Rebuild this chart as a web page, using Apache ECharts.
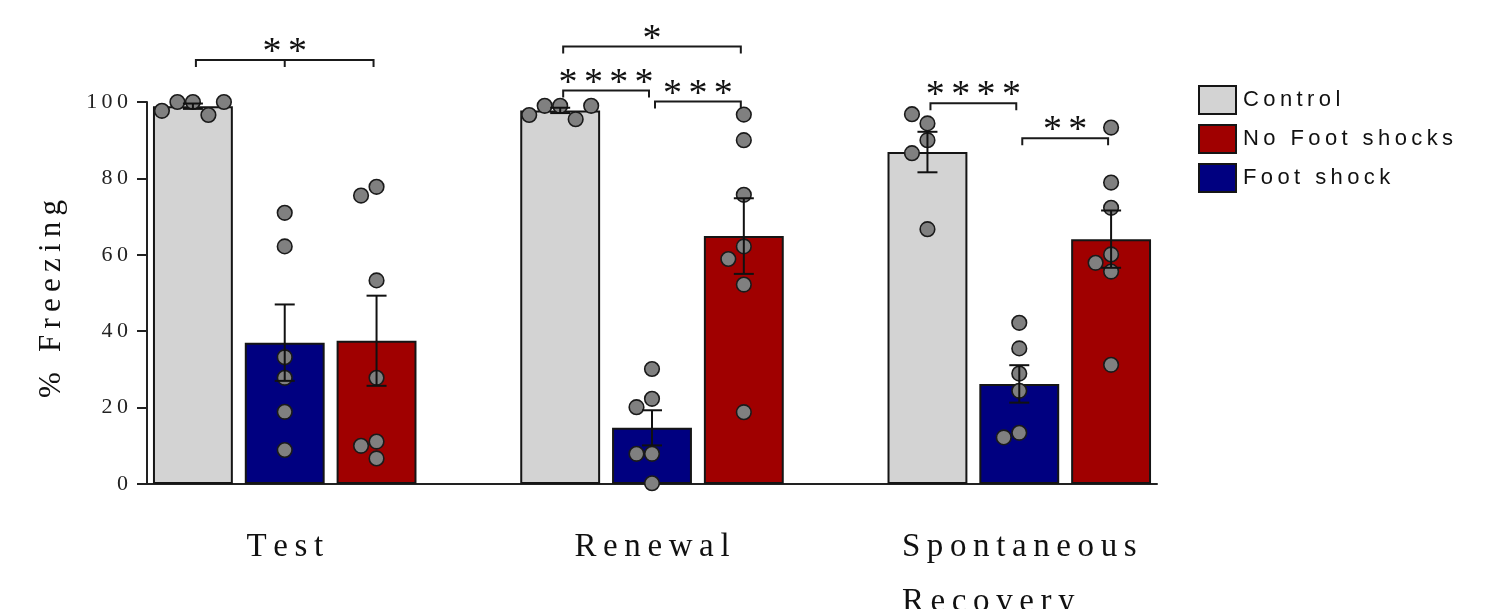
<!DOCTYPE html>
<html><head><meta charset="utf-8">
<script src="https://cdn.jsdelivr.net/npm/echarts@6/dist/echarts.min.js"></script>
<style>html,body{margin:0;padding:0;background:#fff}#c{width:1489px;height:609px}</style>
</head><body><div id="c"></div>
<script>
// ---- data ----
const groups = ['Test', 'Renewal', 'Spontaneous Recovery'];
const conditions = ['Control', 'Foot shock', 'No Foot shocks'];   // bar order inside a group
const legendOrder = ['Control', 'No Foot shocks', 'Foot shock'];
const yTicks = [0, 20, 40, 60, 80, 100];

const controlMean = [98.9, 97.8, 86.9];
const controlSem = [0.7, 0.7, 5.3];
const footShockMean = [37.0, 14.7, 26.2];
const footShockSem = [10.0, 4.6, 4.9];
const noFootShockMean = [37.5, 64.9, 64.1];
const noFootShockSem = [11.8, 9.9, 7.5];

const controlPoints = [
  [100, 100, 96.6, 97.7, 100],
  [99.0, 99.0, 95.5, 96.6, 99.0],
  [94.4, 96.8, 90.0, 86.6, 66.7]
];
const footShockPoints = [
  [71.0, 62.2, 33.2, 27.8, 18.9, 8.9],
  [30.1, 22.3, 20.1, 7.9, 7.9, 0.2],
  [42.2, 35.5, 28.9, 24.4, 13.4, 12.2]
];
const noFootShockPoints = [
  [77.8, 75.5, 53.3, 27.8, 11.1, 10.0, 6.7],
  [96.7, 90.0, 75.7, 62.2, 58.9, 52.2, 18.8],
  [93.3, 78.9, 72.3, 60.1, 57.9, 55.6, 31.2]
];

// significance brackets: group index, condition indices, height (% freezing), stars
const bracketGroup = [0, 1, 1, 1, 2, 2];
const bracketFrom  = [0, 0, 0, 1, 0, 1];
const bracketTo    = [2, 2, 1, 2, 1, 2];
const bracketY     = [111.0, 114.5, 103.0, 100.1, 99.7, 90.5];
const bracketStars = [2, 1, 4, 3, 4, 2];
const bracketMid   = [1, 0, 0, 0, 0, 0];

// ---- build ----
const means = [controlMean, footShockMean, noFootShockMean];
const sems = [controlSem, footShockSem, noFootShockSem];
const points = [controlPoints, footShockPoints, noFootShockPoints];
const colors = { 'Control': '#d3d3d3', 'Foot shock': '#000080', 'No Foot shocks': '#a00000' };

const per = conditions.length + 1;
const nSlots = groups.length * per - 1;
const slotOf = (g, c) => g * per + c;
const slotNames = Array.from({ length: nSlots }, (_, i) => 's' + i);
const slotLabel = Array.from({ length: nSlots }, (_, i) => (i % per === 1 ? groups[Math.floor(i / per)] : ''));

const SP = '\u2009';
const HAIR = '\u200A';
const spaced = s => s.split('').join(SP);

const serif = '"Liberation Serif", "Times New Roman", serif';
const sans = '"Liberation Sans", Arial, sans-serif';
const LABEL_SIZE = 33;

// measure widest word for left-aligned multi-line label
const mctx = document.createElement('canvas').getContext('2d');
mctx.font = LABEL_SIZE + 'px "Liberation Serif"';
let wordW = 0;
groups.forEach(gn => gn.split(' ').forEach(w => { wordW = Math.max(wordW, mctx.measureText(spaced(w)).width); }));

const barSeries = conditions.map((cond, c) => {
  const data = Array(nSlots).fill('-');
  groups.forEach((_, g) => { data[slotOf(g, c)] = means[c][g]; });
  return {
    type: 'bar', name: cond, data, barWidth: '87%', barGap: '-100%', z: 2,
    itemStyle: { color: colors[cond], borderColor: '#151515', borderWidth: 2 },
    emphasis: { disabled: true }
  };
});

// scatter points
const pointData = [];
const keyValues = {};
groups.forEach((_, g) => conditions.forEach((_, c) => {
  const key = g * 10 + c;
  keyValues[key] = points[c][g];
  points[c][g].forEach((v, i) => pointData.push([slotOf(g, c), v, key, i]));
}));
const swarmCache = {};
function swarm(key, ppu) {
  const ck = key + '_' + ppu.toFixed(4);
  if (swarmCache[ck]) return swarmCache[ck];
  const vals = keyValues[key];
  const D = 15.5, step = D / 2;
  const placed = [];
  const offs = [];
  vals.forEach(v => {
    const y = v * ppu;
    for (let k = 0; k < 40; k++) {
      const m = k === 0 ? 0 : (k % 2 ? -Math.ceil(k / 2) : Math.ceil(k / 2));
      const x = m * step;
      if (placed.every(p => Math.hypot(p[0] - x, p[1] - y) >= D - 0.01)) {
        placed.push([x, y]); offs.push(x); break;
      }
    }
  });
  swarmCache[ck] = offs;
  return offs;
}

const errData = [];
groups.forEach((_, g) => conditions.forEach((_, c) => errData.push([slotOf(g, c), means[c][g], sems[c][g]])));

const brData = bracketY.map((y, i) => [
  slotOf(bracketGroup[i], bracketFrom[i]), slotOf(bracketGroup[i], bracketTo[i]), y, bracketMid[i], bracketStars[i]
]);

const option = {
  backgroundColor: '#ffffff',
  animation: false,
  grid: { left: 147, right: 332, top: 102, bottom: 125, containLabel: false, outerBoundsMode: 'none' },
  legend: {
    data: legendOrder, orient: 'vertical', left: 1193, top: 80,
    itemWidth: 37, itemHeight: 28, itemGap: 9, icon: 'rect',
    textStyle: { fontFamily: sans, fontSize: 22, color: '#111', padding: [0, 0, 0, 2] },
    formatter: n => spaced(n), selectedMode: false
  },
  xAxis: {
    type: 'category', data: slotNames,
    axisLine: { lineStyle: { color: '#222', width: 2 } },
    axisTick: { alignWithLabel: true, interval: 0, length: 10, lineStyle: { color: '#222', width: 2 } },
    axisLabel: {
      interval: 0, margin: 36, color: '#111',
      formatter: (v, i) => {
        const lab = slotLabel[i];
        if (!lab) return '';
        const words = lab.split(' ');
        if (words.length === 1) return '{c|' + spaced(lab) + '}';
        return words.map(w => '{l|' + spaced(w) + '}').join('\n');
      },
      rich: {
        c: { fontFamily: serif, fontSize: LABEL_SIZE, color: '#111', lineHeight: 55 },
        l: { fontFamily: serif, fontSize: LABEL_SIZE, color: '#111', lineHeight: 55, width: wordW, align: 'left' }
      }
    }
  },
  yAxis: {
    type: 'value', min: yTicks[0], max: yTicks[yTicks.length - 1], interval: yTicks[1] - yTicks[0],
    name: spaced('% Freezing'), nameLocation: 'middle', nameGap: 80, nameRotate: 90,
    nameTextStyle: { fontFamily: serif, fontSize: 31, color: '#111', padding: [0, 12, 0, 0] },
    axisLine: { show: true, lineStyle: { color: '#222', width: 2 } },
    axisTick: { show: true, length: 10, lineStyle: { color: '#222', width: 2 } },
    splitLine: { show: false },
    axisLabel: { margin: 19, fontFamily: serif, fontSize: 22, color: '#222', formatter: v => spaced(String(v)) }
  },
  series: [
    ...barSeries,
    {
      type: 'custom', name: 'points', z: 3, clip: false, data: pointData, silent: true,
      renderItem: (params, api) => {
        const slot = api.value(0), v = api.value(1), key = api.value(2), idx = api.value(3);
        const ppu = api.coord([slot, 0])[1] - api.coord([slot, 1])[1];
        const offs = swarm(key, ppu);
        const p = api.coord([slot, v]);
        return { type: 'circle', shape: { cx: p[0] + offs[idx], cy: p[1], r: 7.3 },
                 style: { fill: '#808080', stroke: '#1a1a1a', lineWidth: 1.6 } };
      }
    },
    {
      type: 'custom', name: 'sem', z: 4, clip: false, data: errData, silent: true,
      renderItem: (params, api) => {
        const slot = api.value(0), m = api.value(1), s = api.value(2);
        const t = api.coord([slot, m + s]), b = api.coord([slot, m - s]);
        const hw = 10;
        const st = { stroke: '#111', lineWidth: 2, fill: null };
        return { type: 'group', children: [
          { type: 'line', shape: { x1: t[0], y1: t[1], x2: b[0], y2: b[1] }, style: st },
          { type: 'line', shape: { x1: t[0] - hw, y1: t[1], x2: t[0] + hw, y2: t[1] }, style: st },
          { type: 'line', shape: { x1: b[0] - hw, y1: b[1], x2: b[0] + hw, y2: b[1] }, style: st }
        ] };
      }
    },
    {
      type: 'custom', name: 'brackets', z: 5, clip: false, data: brData, silent: true,
      renderItem: (params, api) => {
        const f = api.value(0), to = api.value(1), y = api.value(2), mid = api.value(3), n = api.value(4);
        const a = api.coord([f, y]), b = api.coord([to, y]);
        const x1 = a[0] + 3, x2 = b[0] - 3, yy = a[1], drop = 7;
        const st = { stroke: '#1a1a1a', lineWidth: 2, fill: null };
        const children = [
          { type: 'polyline', shape: { points: [[x1, yy + drop], [x1, yy], [x2, yy], [x2, yy + drop]] }, style: st }
        ];
        if (mid) {
          const mx = (x1 + x2) / 2;
          children.push({ type: 'line', shape: { x1: mx, y1: yy, x2: mx, y2: yy + drop }, style: st });
        }
        children.push({ type: 'text', style: {
          text: Array(n).fill('*').join(HAIR + HAIR), x: (x1 + x2) / 2, y: yy + 12,
          align: 'center', verticalAlign: 'bottom', fill: '#111', font: '38px "Liberation Serif"'
        } });
        return { type: 'group', children };
      }
    }
  ]
};

const chart = echarts.init(document.getElementById('c'), null, { renderer: 'canvas' });
chart.setOption(option);
</script>
</body></html>
